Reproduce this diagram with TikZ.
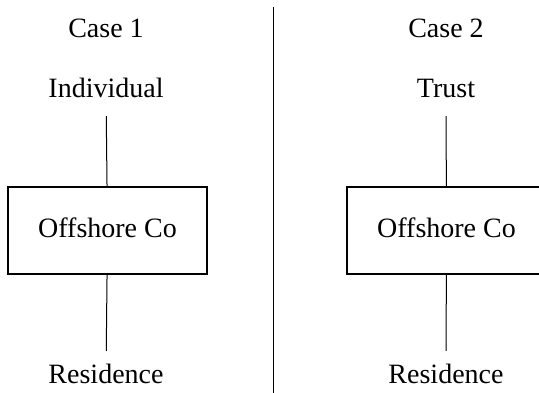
\documentclass[tikz,border=0pt]{standalone}
\usepackage{fontspec}
\setmainfont{Liberation Serif}
\usetikzlibrary{positioning}

\begin{document}
\begin{tikzpicture}[x=1pt,y=-1pt,
  lbl/.style={font=\fontsize{28}{31}\selectfont,inner sep=0pt,text height=20pt,text depth=6pt,anchor=base},
  cobox/.style={lbl,draw,line width=1.8pt,minimum width=199pt,minimum height=87pt,anchor=center},
  link/.style={line width=1pt,shorten >=12pt}]
\clip (0,0) rectangle (539,393);
\fill[white] (0,0) rectangle (539,393);
% left side
\node[lbl] (case1) at (106,38) {Case 1};
\node[lbl] (ind) at (106,98) {Individual};
\node[cobox] (box1) at (107.5,230.5) {Offshore Co};
\node[lbl] (res1) at (106,383) {Residence};
\draw[link] (box1) -- (ind);
\draw[link] (box1) -- (res1);
% divider
\coordinate (top) at (273,7);
\coordinate (bot) at (273,393);
\draw[line width=1pt] (top) -- (bot);
% right side
\node[lbl] (case2) at (446,38) {Case 2};
\node[lbl] (trust) at (446,98) {Trust};
\node[cobox] (box2) at (446.5,230.5) {Offshore Co};
\node[lbl] (res2) at (446,383) {Residence};
\draw[link] (box2) -- (trust);
\draw[link] (box2) -- (res2);
\end{tikzpicture}
\end{document}
